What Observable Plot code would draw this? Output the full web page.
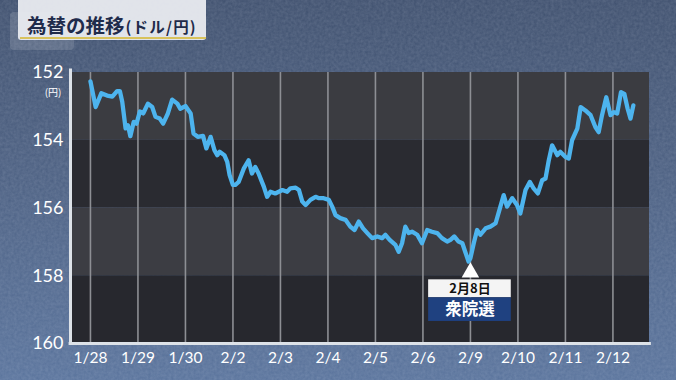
<!DOCTYPE html>
<html>
<head>
<meta charset="utf-8">
<script src="https://cdn.jsdelivr.net/npm/d3@7"></script>
<script src="https://cdn.jsdelivr.net/npm/@observablehq/plot@0.6"></script>
<style>
  html, body { margin: 0; padding: 0; }
  #wrap {
    position: relative; width: 676px; height: 380px; overflow: hidden;
    background: linear-gradient(180deg, #3e4f6d 0%, #4a5e80 45%, #58729b 100%);
    font-family: "Noto Sans CJK JP", "Noto Sans", sans-serif;
  }
  #noise { position: absolute; left: 0; top: 0; }
  #chart { position: absolute; left: 0; top: 0; }
  #titlebox {
    position: absolute; left: 18px; top: -6px; width: 188px; height: 46px;
    background: rgba(233,235,240,0.95); border-radius: 3px;
  }
  #titleshadow {
    position: absolute; left: 10px; top: 12px; width: 64px; height: 38px;
    background: rgba(255,255,255,0.14); border-radius: 4px;
  }
  #title {
    position: absolute; left: 27px; top: 10px; white-space: nowrap;
    color: #1f2b4b; font-weight: 700;
  }
  #title .main { font-size: 19.5px; }
  #title .sub { font-size: 15.5px; letter-spacing: 1.2px; margin-left: 1px; }
  #uline {
    position: absolute; left: 20px; top: 37px; width: 186px; height: 2px;
    background: #d8c25c;
  }
</style>
</head>
<body>
<div id="wrap">
  <svg id="noise" width="676" height="380">
    <filter id="nz"><feTurbulence type="fractalNoise" baseFrequency="0.35" numOctaves="2" seed="4"/>
      <feColorMatrix type="matrix" values="0 0 0 0 0.85  0 0 0 0 0.9  0 0 0 0 1  0 0 0 0.16 0"/></filter>
    <rect width="676" height="380" filter="url(#nz)"/>
  </svg>
  <div id="titleshadow"></div>
  <div id="titlebox"></div>
  <div id="uline"></div>
  <div id="title"><span class="main">為替の推移</span><span class="sub">(ドル/円)</span></div>
  <div id="chart"></div>
</div>
<script>
// Trading-day labels (ticks at day index 0..11)
const dayLabels = ["1/28","1/29","1/30","2/2","2/3","2/4","2/5","2/6","2/9","2/10","2/11","2/12"];
const yTicks = [152, 154, 156, 158, 160];

// Position along the axis in trading days since 1/28 open
const dayPos = [0.00,0.11,0.23,0.35,0.46,0.56,0.62,0.67,0.74,0.79,0.84,0.91,0.97,1.04,1.11,1.21,1.30,1.37,1.46,1.53,
1.63,1.72,1.83,1.89,2.00,2.11,2.17,2.26,2.37,2.44,2.53,2.61,2.67,2.72,2.82,2.88,2.93,3.00,3.05,3.12,
3.23,3.33,3.40,3.47,3.54,3.65,3.72,3.79,3.89,4.04,4.14,4.21,4.32,4.39,4.46,4.53,4.63,4.74,4.81,4.91,
5.02,5.09,5.16,5.26,5.37,5.47,5.56,5.65,5.74,5.83,5.93,6.04,6.14,6.21,6.30,6.42,6.49,6.56,6.63,6.70,
6.77,6.88,6.98,7.09,7.19,7.30,7.40,7.51,7.58,7.66,7.75,7.83,7.89,7.96,8.00,8.07,8.14,8.21,8.32,8.42,
8.53,8.62,8.70,8.77,8.88,8.98,9.05,9.16,9.25,9.33,9.42,9.51,9.58,9.65,9.72,9.83,9.89,10.00,10.07,10.14,
10.25,10.32,10.42,10.53,10.63,10.70,10.77,10.86,10.95,11.02,11.09,11.17,11.24,11.31,11.37,11.43];
// USD/JPY rate (yen per dollar)
const rate = [152.26,153.02,152.61,152.68,152.71,152.55,152.55,152.87,153.65,153.56,153.88,153.46,153.51,153.15,153.21,152.92,153.02,153.31,153.36,153.51,
153.21,152.80,152.92,153.07,152.99,153.21,153.80,153.90,153.87,154.24,153.90,154.29,154.44,154.34,154.44,154.64,155.03,155.32,155.32,155.23,
154.83,154.59,154.98,154.79,154.98,155.37,155.67,155.52,155.57,155.47,155.52,155.42,155.40,155.47,155.81,155.91,155.76,155.67,155.71,155.71,
155.76,155.96,156.21,156.30,156.35,156.55,156.65,156.40,156.60,156.74,156.89,156.84,156.89,156.79,156.94,157.09,157.29,157.04,156.55,156.74,
156.70,156.79,157.04,156.65,156.70,156.74,156.89,156.99,156.94,156.84,156.99,157.04,157.29,157.58,157.48,157.04,156.65,156.79,156.60,156.55,
156.45,156.01,155.62,155.96,155.71,155.91,156.16,155.47,155.23,155.42,155.57,155.18,155.13,154.59,154.15,154.44,154.34,154.49,154.54,154.00,
153.66,153.02,153.12,153.26,153.61,153.76,153.26,152.73,153.26,153.17,153.21,152.58,152.63,153.07,153.36,152.97];

// Horizontal background bands
const bandLo = [152, 154, 156, 158];
const bandHi = [154, 156, 158, 160];
const bandFill = ["#3b3c41", "#2a2b31", "#3c3d43", "#27282e"];

// Annotation (election day)
const eventDay = 8;
const eventDate = "2月8日";
const eventName = "衆院選";
const unitLabel = "(円)";

const series = dayPos.map((d, i) => ({d, r: rate[i]}));
const bands = bandLo.map((lo, i) => ({lo, hi: bandHi[i], fill: bandFill[i]}));
const xMin = -0.42, xMax = 11.77;

const plot = Plot.plot({
  width: 676, height: 380,
  marginLeft: 70, marginRight: 27, marginTop: 72, marginBottom: 37,
  style: {background: "transparent", color: "white", fontFamily: "Lato, 'Noto Sans', sans-serif"},
  x: {domain: [xMin, xMax]},
  y: {domain: [152, 160], reverse: true},
  marks: [
    Plot.rect(bands, {y1: "lo", y2: "hi", x1: xMin, x2: xMax, fill: "fill"}),
    Plot.ruleX(d3.range(dayLabels.length), {stroke: "#8d8f94", strokeWidth: 1.6}),
    Plot.line(series, {x: "d", y: "r", stroke: "#4db4ee", strokeWidth: 4.3, strokeLinejoin: "round", strokeLinecap: "round"}),
    Plot.ruleX([xMin], {stroke: "#dde2e8", strokeWidth: 3, y1: 151.9, y2: 160.05}),
    Plot.ruleY([160], {stroke: "#dde2e8", strokeWidth: 3, x1: xMin - 0.03, x2: xMax + 0.04}),
    Plot.axisY({ticks: yTicks, tickSize: 0, tickPadding: 7, fontSize: 18, label: null, fill: "white"}),
    Plot.text([unitLabel], {x: xMin, y: 152, text: d => d, dx: -9, dy: 20, textAnchor: "end", fontSize: 10, fill: "white", fontFamily: "'Noto Sans CJK JP'"}),
    Plot.axisX({ticks: d3.range(dayLabels.length), tickFormat: i => dayLabels[i], tickSize: 0, tickPadding: 8, fontSize: 15.5, label: null, fill: "white"}),
    // pointer
    Plot.dot([eventDay], {x: d => d, y: 157.9, symbol: "triangle", r: 6.5, fill: "white", stroke: "none"}),
    Plot.rect([eventDay], {x1: d => d - 0.88, x2: d => d + 0.86, y1: 158.12, y2: 158.65, fill: "#f4f4f4"}),
    Plot.rect([eventDay], {x1: d => d - 0.88, x2: d => d + 0.86, y1: 158.65, y2: 159.35, fill: "#1f4180"}),
    Plot.text([eventDate], {x: eventDay - 0.01, y: 158.40, text: d => d, fontSize: 13, fontWeight: 700, fill: "#111", fontFamily: "'Noto Sans CJK JP'"}),
    Plot.text([eventName], {x: eventDay - 0.01, y: 159.0, text: d => d, fontSize: 16.5, fontWeight: 700, fill: "white", fontFamily: "'Noto Sans CJK JP'"})
  ]
});
document.getElementById("chart").appendChild(plot);
</script>
</body>
</html>
